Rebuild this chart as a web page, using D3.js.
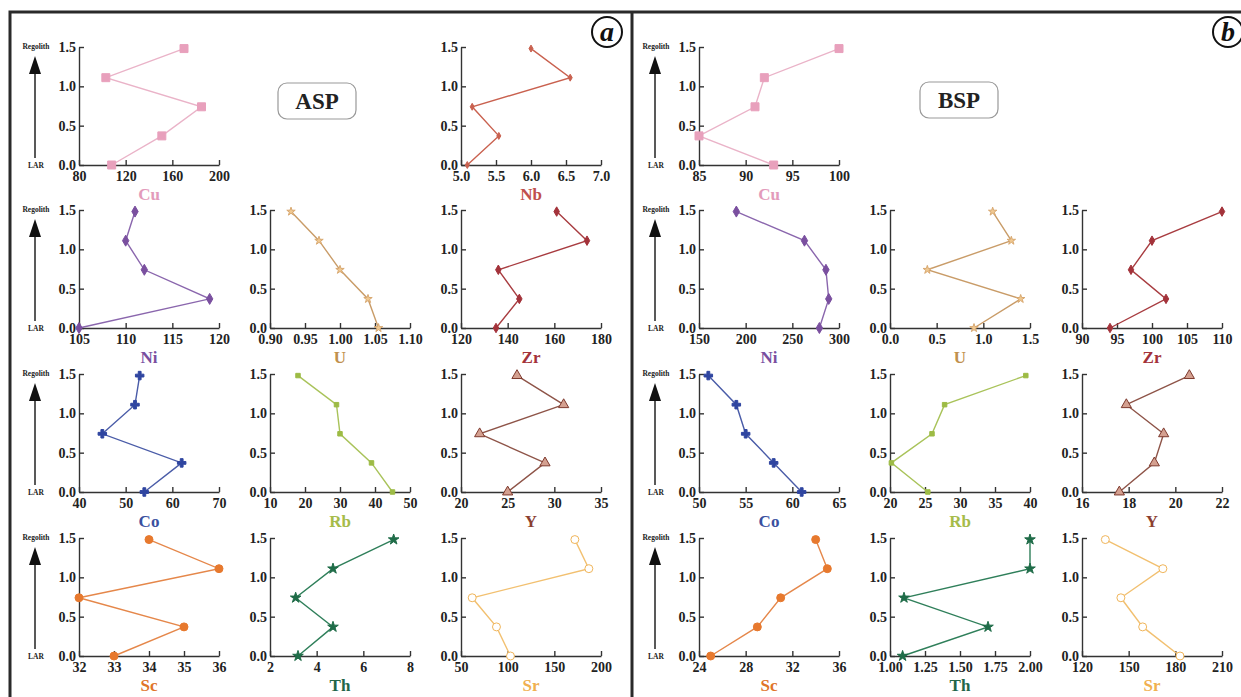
<!DOCTYPE html>
<html>
<head>
<meta charset="utf-8">
<script src="https://cdn.jsdelivr.net/npm/d3@7"></script>
<style>
  body { margin: 0; background: #fff; }
  svg { display: block; font-family: "Liberation Serif", "Times New Roman", serif; }
  .axis { font-family: "Liberation Serif", "Times New Roman", serif; }
  .axis path, .axis line { stroke: #333; stroke-width: 1.4; }
  .axis text { font-size: 14px; font-weight: bold; fill: #222; }
</style>
</head>
<body>
<svg id="chart" width="1241" height="697"></svg>
<script>
// depth positions (LAR -> Regolith), listed top sample first
const depth = [1.48, 1.11, 0.74, 0.37, 0.0];
const yTicks = [0, 0.5, 1.0, 1.5];

// ASP profile
const aspCu = [170, 103, 185, 151, 108];
const aspNb = [6.0, 6.56, 5.16, 5.54, 5.09];
const aspNi = [111, 110, 112, 119, 105];
const aspU  = [0.93, 0.97, 1.00, 1.04, 1.055];
const aspZr = [161, 174, 136, 145, 135];
const aspCo = [53, 52, 45, 62, 54];
const aspRb = [18, 29, 30, 39, 45];
const aspY  = [26, 31, 22, 29, 25];
const aspSc = [34, 36, 32, 35, 33];
const aspTh = [7.3, 4.7, 3.1, 4.7, 3.2];
const aspSr = [172, 187, 62, 88, 103];

// BSP profile
const bspCu = [100, 92, 91, 85, 93];
const bspNi = [190, 263, 286, 289, 279];
const bspU  = [1.1, 1.3, 0.4, 1.4, 0.9];
const bspZr = [110, 100, 97, 102, 94];
const bspCo = [51, 54, 55, 58, 61];
const bspRb = [39.4, 27.8, 26, 20.2, 25.4];
const bspY  = [20.6, 17.9, 19.5, 19.1, 17.6];
const bspSc = [34, 35, 31, 29, 25];
const bspTh = [2.0, 2.0, 1.1, 1.7, 1.09];
const bspSr = [135, 172, 145, 159, 183];

// x tick labels
const aspCuTicks = [80, 120, 160, 200];
const aspNbTicks = [5.0, 5.5, 6.0, 6.5, 7.0];
const aspNiTicks = [105, 110, 115, 120];
const aspUTicks  = [0.90, 0.95, 1.00, 1.05, 1.10];
const aspZrTicks = [120, 140, 160, 180];
const aspCoTicks = [40, 50, 60, 70];
const aspRbTicks = [10, 20, 30, 40, 50];
const aspYTicks  = [20, 25, 30, 35];
const aspScTicks = [32, 33, 34, 35, 36];
const aspThTicks = [2, 4, 6, 8];
const aspSrTicks = [50, 100, 150, 200];

const bspCuTicks = [85, 90, 95, 100];
const bspNiTicks = [150, 200, 250, 300];
const bspUTicks  = [0.0, 0.5, 1.0, 1.5];
const bspZrTicks = [90, 95, 100, 105, 110];
const bspCoTicks = [50, 55, 60, 65];
const bspRbTicks = [20, 25, 30, 35, 40];
const bspYTicks  = [16, 18, 20, 22];
const bspScTicks = [24, 28, 32, 36];
const bspThTicks = [1.00, 1.25, 1.50, 1.75, 2.00];
const bspSrTicks = [120, 150, 180, 210];

// element styles
const styles = {
  Cu: {line: "#eab3c8", fill: "#e8a0bc", stroke: "#e8a0bc", label: "#e39bbb", sym: d3.symbolSquare, size: 64},
  Nb: {line: "#c9614f", fill: "#c9614f", stroke: "#c9614f", label: "#c0504d", sym: d3.symbolDiamond, size: 14},
  Ni: {line: "#8a66ad", fill: "#7a4f9f", stroke: "#7a4f9f", label: "#7a4f9f", sym: d3.symbolDiamond, size: 35},
  U:  {line: "#c99c68", fill: "#f0c890", stroke: "#d8a870", label: "#c0904c", sym: d3.symbolStar, size: 22},
  Zr: {line: "#a83c40", fill: "#a3323a", stroke: "#a3323a", label: "#a3323a", sym: d3.symbolDiamond, size: 26},
  Co: {line: "#4a5ca8", fill: "#2f45a0", stroke: "#2f45a0", label: "#3a509f", sym: d3.symbolCross, size: 40},
  Rb: {line: "#a9c35a", fill: "#9dbb45", stroke: "#9dbb45", label: "#a6bc4a", sym: d3.symbolSquare, size: 20},
  Y:  {line: "#8e5448", fill: "#d4a090", stroke: "#7e3a2e", label: "#8b3f30", sym: d3.symbolTriangle, size: 45},
  Sc: {line: "#e5874a", fill: "#e7792e", stroke: "#e7792e", label: "#e07428", sym: d3.symbolCircle, size: 50},
  Th: {line: "#2f7f5a", fill: "#1f6c48", stroke: "#1f6c48", label: "#22664a", sym: d3.symbolStar, size: 35},
  Sr: {line: "#f2c070", fill: "#fff", stroke: "#f0b55a", label: "#f0b050", sym: d3.symbolCircle, size: 50}
};

// grid layout
const panelA = {cols: [79, 270, 461], name: "ASP", box: [278, 83], tag: "a", tagPos: [607, 32], arrowX: 35};
const panelB = {cols: [699, 890, 1082], name: "BSP", box: [920, 82], tag: "b", tagPos: [1228, 32], arrowX: 655};
const rowZero = [165, 328, 492, 656];
const plotW = 140, plotH = 118;

const charts = [
  {p: panelA, r: 0, c: 0, el: "Cu", v: aspCu, t: aspCuTicks, f: "d"},
  {p: panelA, r: 0, c: 2, el: "Nb", v: aspNb, t: aspNbTicks, f: ".1f"},
  {p: panelA, r: 1, c: 0, el: "Ni", v: aspNi, t: aspNiTicks, f: "d"},
  {p: panelA, r: 1, c: 1, el: "U",  v: aspU,  t: aspUTicks,  f: ".2f"},
  {p: panelA, r: 1, c: 2, el: "Zr", v: aspZr, t: aspZrTicks, f: "d"},
  {p: panelA, r: 2, c: 0, el: "Co", v: aspCo, t: aspCoTicks, f: "d"},
  {p: panelA, r: 2, c: 1, el: "Rb", v: aspRb, t: aspRbTicks, f: "d"},
  {p: panelA, r: 2, c: 2, el: "Y",  v: aspY,  t: aspYTicks,  f: "d"},
  {p: panelA, r: 3, c: 0, el: "Sc", v: aspSc, t: aspScTicks, f: "d"},
  {p: panelA, r: 3, c: 1, el: "Th", v: aspTh, t: aspThTicks, f: "d"},
  {p: panelA, r: 3, c: 2, el: "Sr", v: aspSr, t: aspSrTicks, f: "d"},
  {p: panelB, r: 0, c: 0, el: "Cu", v: bspCu, t: bspCuTicks, f: "d"},
  {p: panelB, r: 1, c: 0, el: "Ni", v: bspNi, t: bspNiTicks, f: "d"},
  {p: panelB, r: 1, c: 1, el: "U",  v: bspU,  t: bspUTicks,  f: ".1f"},
  {p: panelB, r: 1, c: 2, el: "Zr", v: bspZr, t: bspZrTicks, f: "d"},
  {p: panelB, r: 2, c: 0, el: "Co", v: bspCo, t: bspCoTicks, f: "d"},
  {p: panelB, r: 2, c: 1, el: "Rb", v: bspRb, t: bspRbTicks, f: "d"},
  {p: panelB, r: 2, c: 2, el: "Y",  v: bspY,  t: bspYTicks,  f: "d"},
  {p: panelB, r: 3, c: 0, el: "Sc", v: bspSc, t: bspScTicks, f: "d"},
  {p: panelB, r: 3, c: 1, el: "Th", v: bspTh, t: bspThTicks, f: ".2f"},
  {p: panelB, r: 3, c: 2, el: "Sr", v: bspSr, t: bspSrTicks, f: "d"}
];

const svg = d3.select("#chart");

// frame
svg.append("rect").attr("x", 10).attr("y", 12).attr("width", 1240).attr("height", 700)
  .attr("fill", "none").attr("stroke", "#2a2a2a").attr("stroke-width", 3);
svg.append("line").attr("x1", 632).attr("x2", 632).attr("y1", 12).attr("y2", 697)
  .attr("stroke", "#2a2a2a").attr("stroke-width", 3);

const drawChart = (d) => {
  const x0 = d.p.cols[d.c], y0 = rowZero[d.r];
  const st = styles[d.el];
  const xScale = d3.scaleLinear().domain(d3.extent(d.t)).range([x0, x0 + plotW]);
  const yScale = d3.scaleLinear().domain([0, 1.5]).range([y0, y0 - plotH]);
  const g = svg.append("g");

  g.append("g").attr("class", "axis").attr("transform", `translate(0,${y0})`)
    .call(d3.axisBottom(xScale).tickValues(d.t).tickFormat(d3.format(d.f)).tickSize(-5).tickSizeOuter(0).tickPadding(6));
  g.append("g").attr("class", "axis").attr("transform", `translate(${x0},0)`)
    .call(d3.axisLeft(yScale).tickValues(yTicks).tickFormat(d3.format(".1f")).tickSize(-5).tickSizeOuter(0).tickPadding(3));
  g.selectAll(".axis").attr("font-family", null).attr("font-size", null);

  const pts = d.v.map((val, i) => ({x: val, y: depth[i]}));
  const line = d3.line().x(p => xScale(p.x)).y(p => yScale(p.y));
  g.append("path").attr("d", line(pts)).attr("fill", "none")
    .attr("stroke", st.line).attr("stroke-width", 1.4);
  g.selectAll(".pt").data(pts).enter().append("path")
    .attr("transform", p => `translate(${xScale(p.x)},${yScale(p.y)})`)
    .attr("d", d3.symbol().type(st.sym).size(st.size))
    .attr("fill", st.fill).attr("stroke", st.stroke).attr("stroke-width", 1);

  g.append("text").attr("x", x0 + plotW / 2).attr("y", y0 + 35)
    .attr("text-anchor", "middle").attr("font-size", 17).attr("font-weight", "bold")
    .attr("fill", st.label).text(d.el);
};

charts.forEach(drawChart);

// depth arrows, name boxes, panel tags
[panelA, panelB].forEach(p => {
  rowZero.forEach(y0 => {
    const ax = p.arrowX;
    svg.append("text").attr("x", ax + 1).attr("y", y0 - plotH + 2).attr("text-anchor", "middle")
      .attr("font-size", 7.5).attr("font-weight", "bold").attr("fill", "#222").text("Regolith");
    svg.append("line").attr("x1", ax).attr("x2", ax).attr("y1", y0 - 7).attr("y2", y0 - plotH + 20)
      .attr("stroke", "#222").attr("stroke-width", 1.5);
    svg.append("path").attr("d", `M${ax},${y0 - plotH + 9} L${ax - 6},${y0 - plotH + 27} L${ax + 6},${y0 - plotH + 27} Z`)
      .attr("fill", "#111");
    svg.append("text").attr("x", ax + 1).attr("y", y0 + 3).attr("text-anchor", "middle")
      .attr("font-size", 7.5).attr("font-weight", "bold").attr("fill", "#222").text("LAR");
  });

  svg.append("rect").attr("x", p.box[0]).attr("y", p.box[1]).attr("width", 78).attr("height", 36)
    .attr("rx", 9).attr("fill", "#fff").attr("stroke", "#999").attr("stroke-width", 1.2);
  svg.append("text").attr("x", p.box[0] + 39).attr("y", p.box[1] + 26).attr("text-anchor", "middle")
    .attr("font-size", 23).attr("font-weight", "bold").attr("fill", "#222").text(p.name);

  svg.append("circle").attr("cx", p.tagPos[0]).attr("cy", p.tagPos[1]).attr("r", 15)
    .attr("fill", "#fff").attr("stroke", "#111").attr("stroke-width", 2);
  svg.append("text").attr("x", p.tagPos[0]).attr("y", p.tagPos[1] + 9).attr("text-anchor", "middle")
    .attr("font-size", 28).attr("font-weight", "bold").attr("font-style", "italic").attr("fill", "#111").text(p.tag);
});
</script>
</body>
</html>
